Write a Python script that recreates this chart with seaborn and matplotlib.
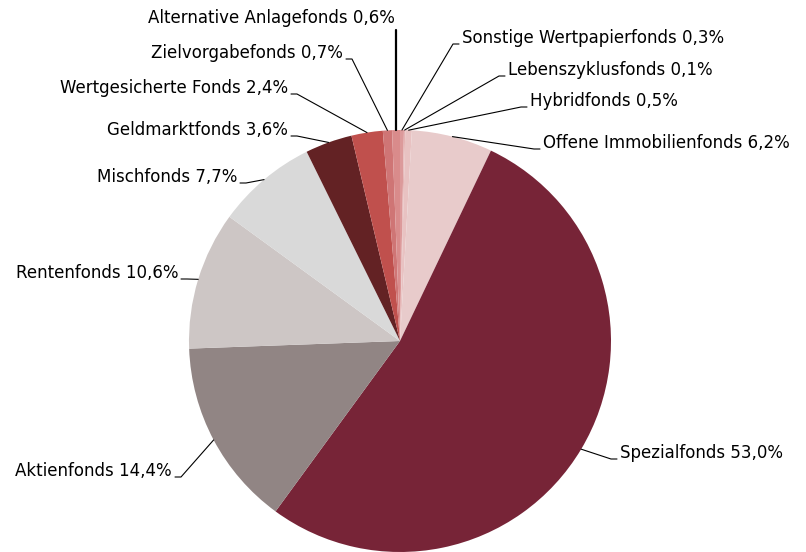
import numpy as np
import matplotlib
matplotlib.use("Agg")
import matplotlib.pyplot as plt
import seaborn as sns

# ── Data ─────────────────────────────────────────────────────
categories = ['Sonstige Wertpapierfonds', 'Lebenszyklusfonds', 'Hybridfonds',
              'Offene Immobilienfonds', 'Spezialfonds', 'Aktienfonds',
              'Rentenfonds', 'Mischfonds', 'Geldmarktfonds',
              'Wertgesicherte Fonds', 'Zielvorgabefonds', 'Alternative Anlagefonds']
shares = [0.3, 0.1, 0.5, 6.2, 53.0, 14.4, 10.6, 7.7, 3.6, 2.4, 0.7, 0.6]
colors = ['#dc9a9b', '#e4b3b3', '#e8c2c2', '#e8cbcb', '#772437', '#918584',
          '#cdc6c5', '#d9d9d9', '#632224', '#c0504d', '#cf7575', '#d98b8b']

# label text positions in pixels (x anchor, y centre) and side
label_pos = [(462, 38, 'l'), (508, 70, 'l'), (530, 101, 'l'), (543, 143, 'l'),
             (620, 453, 'l'), (172, 471, 'r'), (178, 273, 'r'), (237, 177, 'r'),
             (288, 130, 'r'), (288, 88, 'r'), (343, 53, 'r'), (395, 18, 'r')]

W, H = 806, 552
cx, cy, R = 400, 341, 211

sns.set_theme(style="white")
plt.rcParams['font.family'] = ['DejaVu Sans']

fig = plt.figure(figsize=(W / 100, H / 100), dpi=100)
ax = fig.add_axes([0, 0, 1, 1])

wedges, _ = ax.pie(shares, colors=colors, startangle=90, counterclock=False,
                   center=(cx, H - cy), radius=R, frame=True,
                   wedgeprops=dict(linewidth=0))
ax.set_xlim(0, W)
ax.set_ylim(0, H)
ax.set_aspect('equal')
ax.axis('off')

for w, name, val, (tx, ty, side) in zip(wedges, categories, shares, label_pos):
    mid = np.deg2rad((w.theta1 + w.theta2) / 2)
    ex = cx + R * np.cos(mid)
    ey = (H - cy) + R * np.sin(mid)
    label = f"{name} {val:.1f}%".replace('.', ',')
    ty_d = H - ty
    if name == 'Alternative Anlagefonds':
        ax.plot([ex, ex], [ey, H - 30], color='black', lw=1.6)
    elif side == 'r':
        ax.plot([ex, tx + 9, tx + 3], [ey, ty_d - 6, ty_d - 6], color='black', lw=0.8)
    else:
        ax.plot([ex, tx - 9, tx - 3], [ey, ty_d - 6, ty_d - 6], color='black', lw=0.8)
    ax.text(tx, ty_d, label, ha='right' if side == 'r' else 'left', va='center',
            fontsize=12, color='black')

plt.savefig('out.png', dpi=100)
